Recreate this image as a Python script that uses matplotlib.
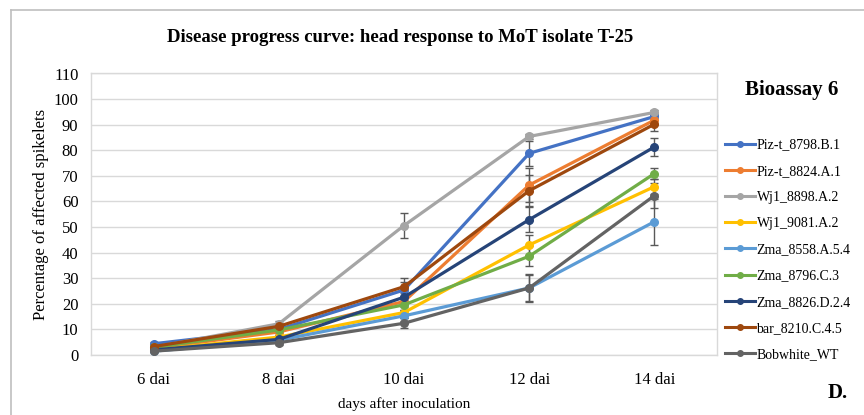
import numpy as np
import matplotlib
matplotlib.use("Agg")
import matplotlib.pyplot as plt
from matplotlib.lines import Line2D

plt.rcParams['font.family'] = ['Liberation Serif', 'DejaVu Serif']

# data
days = ['6 dai', '8 dai', '10 dai', '12 dai', '14 dai']
lines = ['Piz-t_8798.B.1', 'Piz-t_8824.A.1', 'Wj1_8898.A.2', 'Wj1_9081.A.2',
         'Zma_8558.A.5.4', 'Zma_8796.C.3', 'Zma_8826.D.2.4', 'bar_8210.C.4.5',
         'Bobwhite_WT']
piz_8798 = [4.4, 10.0, 25.4, 78.8, 93.2]
piz_8824 = [2.6, 9.0, 20.9, 66.4, 91.8]
wj1_8898 = [3.0, 12.2, 50.6, 85.4, 94.8]
wj1_9081 = [2.0, 7.0, 16.6, 43.0, 65.8]
zma_8558 = [1.5, 5.8, 15.3, 26.2, 52.1]
zma_8796 = [3.0, 9.8, 19.6, 38.6, 70.9]
zma_8826 = [2.0, 6.1, 22.6, 52.9, 81.3]
bar_8210 = [3.3, 11.2, 26.7, 64.2, 90.2]
bobwhite = [1.5, 4.8, 12.4, 26.2, 62.3]
values = [piz_8798, piz_8824, wj1_8898, wj1_9081, zma_8558, zma_8796,
          zma_8826, bar_8210, bobwhite]

# error bar half-widths
err_8798 = [0.5, 1.0, 3.0, 5.0, 1.5]
err_8824 = [0.5, 1.0, 3.5, 6.5, 2.0]
err_8898 = [0.5, 1.0, 5.0, 1.0, 0.8]
err_9081 = [0.5, 0.8, 2.0, 4.0, 3.0]
err_8558 = [0.5, 0.8, 2.0, 5.0, 9.0]
err_8796 = [0.5, 0.8, 2.0, 4.0, 2.0]
err_8826 = [0.5, 0.8, 3.0, 5.0, 3.4]
err_8210 = [0.5, 1.0, 3.5, 6.0, 2.5]
err_bob = [0.5, 1.0, 2.0, 5.5, 5.0]
errors = [err_8798, err_8824, err_8898, err_9081, err_8558, err_8796,
          err_8826, err_8210, err_bob]

colors = ['#4472C4', '#ED7D31', '#A5A5A5', '#FFC000', '#5B9BD5',
          '#70AD47', '#264478', '#9E480E', '#636363']

fig = plt.figure(figsize=(8.64, 4.15), dpi=100)
ax = fig.add_axes([91/864, 1-355/415, (717-91)/864, (355-73.5)/415])

x = np.arange(len(days))
for name, vals, errs, c in zip(lines, values, errors, colors):
    ax.errorbar(x, vals, yerr=errs, color=c, ecolor='#595959', elinewidth=1.0,
                capsize=3, capthick=1.0, lw=2.3, marker='o', markersize=5.5,
                label=name, zorder=3)

ax.set_xlim(-0.5, len(days) - 0.5)
ax.set_ylim(0, 110)
ax.set_yticks(np.arange(0, 111, 10))
ax.set_xticks(x)
ax.set_xticklabels(days)
ax.tick_params(axis='both', length=0, labelsize=12)
ax.tick_params(axis='y', pad=9)
ax.tick_params(axis='x', pad=12)
ax.grid(axis='y', color='#d9d9d9', lw=1.0, zorder=0)
for s in ax.spines.values():
    s.set_color('#d9d9d9')
    s.set_linewidth(1.0)

ax.set_ylabel('Percentage of affected spikelets', fontsize=12, labelpad=3)
ax.set_xlabel('days after inoculation', fontsize=11, labelpad=7)

fig.text(400/864, 1-38/415, 'Disease progress curve: head response to MoT isolate T-25',
         ha='center', va='center', fontsize=13.5, fontweight='bold')
fig.text(792/864, 1-90/415, 'Bioassay 6', ha='center', va='center',
         fontsize=15, fontweight='bold')
fig.text(838/864, 1-393/415, 'D.', ha='center', va='center',
         fontsize=15, fontweight='bold')

handles = [Line2D([], [], color=c, lw=2.2, marker='o', markersize=4) for c in colors]
fig.legend(handles, lines, loc='upper left', bbox_to_anchor=(719/864, 1-133/415),
           frameon=False, fontsize=10, handlelength=2.2, handletextpad=0.1,
           labelspacing=0.95, borderaxespad=0)

# chart area border (left and top edges visible)
fig.add_artist(Line2D([11/864, 11/864], [0, 1-10/415], color='#bfbfbf', lw=1.2,
                      transform=fig.transFigure))
fig.add_artist(Line2D([11/864, 1], [1-10/415, 1-10/415], color='#bfbfbf', lw=1.2,
                      transform=fig.transFigure))

fig.savefig('out.png', dpi=100)
